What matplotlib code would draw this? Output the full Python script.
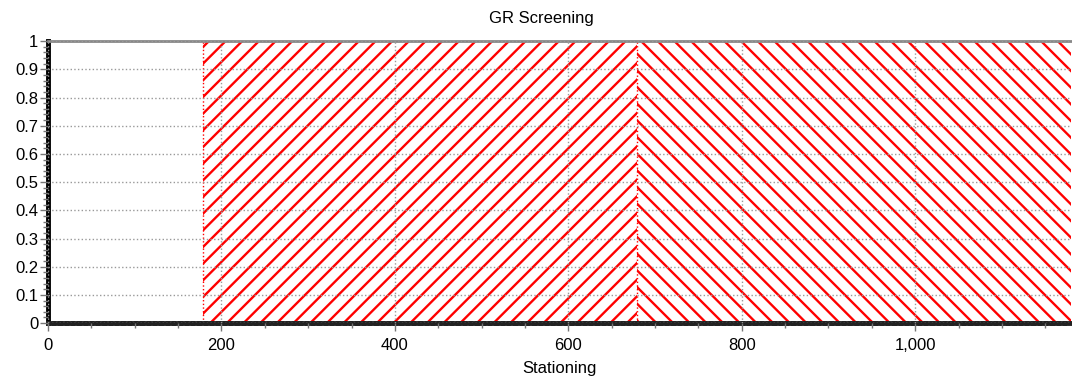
import numpy as np, matplotlib
matplotlib.use("Agg")
import matplotlib.pyplot as plt
from matplotlib.ticker import MultipleLocator, FuncFormatter

# screening flag along the stationing (0 = pass, 1 = flagged)
seg_start = [179, 679]
seg_end = [679, 1180]
seg_value = [1, 1]
seg_hatch = ['//', '\\\\']

x_max = 1180
title = "GR Screening"
x_label = "Stationing"

plt.rcParams['font.family'] = ['Liberation Sans', 'DejaVu Sans']
plt.rcParams['hatch.linewidth'] = 1.7

fig = plt.figure(figsize=(10.72, 3.81), dpi=100)
ax = fig.add_axes([0.0448, 0.152, 0.9545, 0.740])

for s, e, v, h in zip(seg_start, seg_end, seg_value, seg_hatch):
    ax.fill_between([s, e], 0, v, facecolor='white', edgecolor='red',
                    hatch=h, linewidth=0, zorder=1)
    ax.axvline(s, color='red', ls=':', lw=1, zorder=2)

ax.set_xlim(0, x_max)
ax.set_ylim(0, 1)
ax.xaxis.set_major_locator(MultipleLocator(200))
ax.xaxis.set_minor_locator(MultipleLocator(50))
ax.yaxis.set_major_locator(MultipleLocator(0.1))
ax.yaxis.set_minor_locator(MultipleLocator(0.02))
ax.xaxis.set_major_formatter(FuncFormatter(lambda v, p: f"{v:,.0f}"))
ax.yaxis.set_major_formatter(FuncFormatter(lambda v, p: f"{v:g}"))

ax.grid(True, which='major', color='#999999', ls=':', lw=1, zorder=3)
ax.set_axisbelow(False)

ax.tick_params(axis='both', which='major', labelsize=12, direction='out',
               length=6, width=1, color='#777777', pad=1)
ax.tick_params(axis='x', which='major', pad=4.5)
ax.tick_params(axis='both', which='minor', direction='out', length=3.5,
               width=1, color='#777777')

ax.spines['left'].set_color('black')
ax.spines['left'].set_linewidth(3.5)
ax.spines['bottom'].set_color('#222222')
ax.spines['bottom'].set_linewidth(3.5)
ax.spines['bottom'].set_linestyle((0, (1, 0.3)))
ax.spines['top'].set_color('#888888')
ax.spines['top'].set_linewidth(2)
ax.spines['right'].set_visible(False)

fig.text(0.505, 0.972, title, fontsize=12, ha='center', va='top')
ax.set_xlabel(x_label, fontsize=12, labelpad=6)

plt.savefig("out.png", dpi=100)
plt.close()
